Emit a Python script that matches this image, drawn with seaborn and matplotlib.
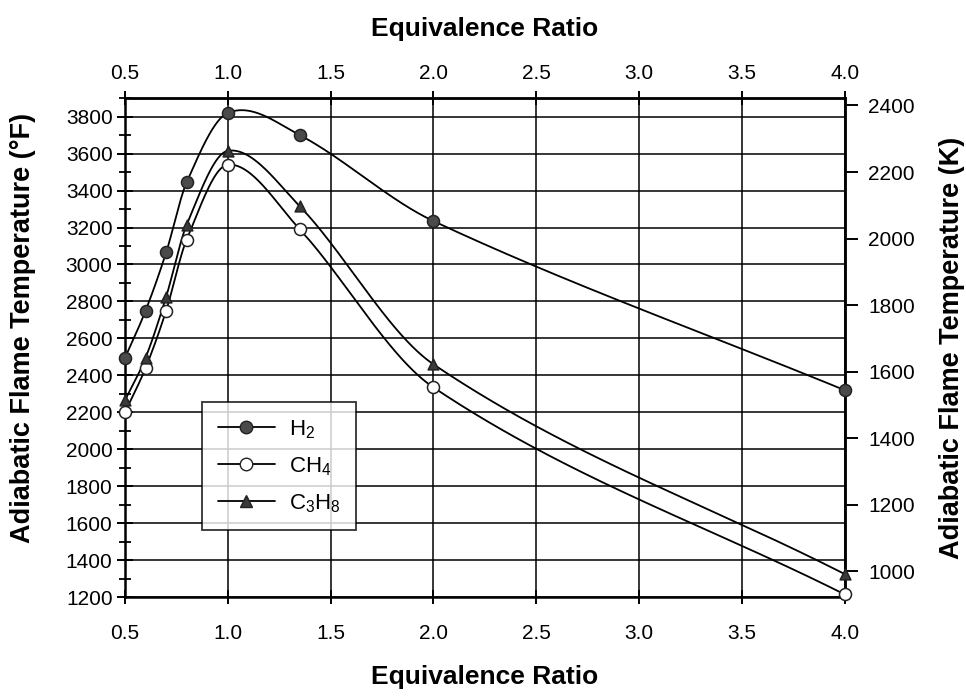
import numpy as np
import pandas as pd
import matplotlib
matplotlib.use("Agg")
import matplotlib.pyplot as plt
import seaborn as sns
from matplotlib.ticker import MultipleLocator
from matplotlib.lines import Line2D

# ---- data ----
phi = [0.5, 0.6, 0.7, 0.8, 1.0, 1.35, 2.0, 4.0]
h2 = [2495, 2750, 3065, 3445, 3820, 3700, 3235, 2320]
ch4 = [2200, 2440, 2750, 3135, 3540, 3190, 2335, 1215]
c3h8 = [2265, 2495, 2825, 3215, 3615, 3315, 2460, 1325]
fuels = ["H$_2$", "CH$_4$", "C$_3$H$_8$"]
x_ticks = [0.5, 1.0, 1.5, 2.0, 2.5, 3.0, 3.5, 4.0]
f_ticks = list(range(1200, 3801, 200))
k_ticks = list(range(1000, 2401, 200))


def smooth_curve(x, y, xs):
    """Cubic Hermite (Catmull-Rom style) curve through the data points."""
    x = np.asarray(x, float); y = np.asarray(y, float)
    n = len(x)
    m = np.zeros(n)
    m[0] = (y[1] - y[0]) / (x[1] - x[0])
    m[-1] = (y[-1] - y[-2]) / (x[-1] - x[-2])
    for i in range(1, n - 1):
        m[i] = (y[i + 1] - y[i - 1]) / (x[i + 1] - x[i - 1])
    idx = np.clip(np.searchsorted(x, xs) - 1, 0, n - 2)
    h = x[idx + 1] - x[idx]
    t = (xs - x[idx]) / h
    h00 = 2 * t**3 - 3 * t**2 + 1
    h10 = t**3 - 2 * t**2 + t
    h01 = -2 * t**3 + 3 * t**2
    h11 = t**3 - t**2
    return h00 * y[idx] + h10 * h * m[idx] + h01 * y[idx + 1] + h11 * h * m[idx + 1]


pts = pd.DataFrame({
    "phi": phi * 3,
    "T": h2 + ch4 + c3h8,
    "fuel": [fuels[0]] * 8 + [fuels[1]] * 8 + [fuels[2]] * 8,
})
xs = np.linspace(min(phi), max(phi), 800)
curves = pd.concat([
    pd.DataFrame({"phi": xs, "T": smooth_curve(phi, vals, xs), "fuel": f})
    for f, vals in zip(fuels, [h2, ch4, c3h8])
])

sns.set_theme(style="white")
plt.rcParams["font.family"] = ["Liberation Sans", "DejaVu Sans"]
plt.rcParams["mathtext.fontset"] = "custom"
plt.rcParams["mathtext.rm"] = "Liberation Sans"
plt.rcParams["mathtext.it"] = "Liberation Sans"
for k in ["text.color", "axes.labelcolor", "xtick.color", "ytick.color"]:
    plt.rcParams[k] = "black"

fig = plt.figure(figsize=(9.66, 6.96), dpi=100)
ax = fig.add_axes([0.1294, 0.142, 0.745, 0.717])

sns.lineplot(data=curves, x="phi", y="T", hue="fuel", palette=["black"] * 3,
             legend=False, linewidth=1.3, ax=ax, sort=False, estimator=None)

styles = {
    fuels[0]: dict(marker="o", s=75, facecolor="#4a4a4a", edgecolor="#222222"),
    fuels[1]: dict(marker="o", s=75, facecolor="white", edgecolor="#222222"),
    fuels[2]: dict(marker="^", s=60, facecolor="#3a3a3a", edgecolor="#222222"),
}
for f in fuels:
    d = pts[pts["fuel"] == f]
    sns.scatterplot(data=d, x="phi", y="T", ax=ax, linewidth=1.1, zorder=5,
                    clip_on=False, **styles[f])

ax.set_xlim(0.5, 4.0)
ax.set_ylim(1200, 3900)
ax.set_xticks(x_ticks)
ax.set_xticklabels([f"{v:.1f}" for v in x_ticks])
ax.set_yticks(f_ticks)
ax.yaxis.set_minor_locator(MultipleLocator(100))
ax.grid(True, which="major", color="black", linewidth=1.1)
ax.set_axisbelow(True)
for s in ax.spines.values():
    s.set_color("black"); s.set_linewidth(1.8)
ax.tick_params(axis="x", which="major", direction="inout", length=10, width=1.4,
               labelsize=15, pad=14, bottom=True)
ax.tick_params(axis="y", which="major", direction="inout", length=12, width=1.4,
               labelsize=15, pad=3, left=True)
ax.tick_params(axis="y", which="minor", direction="inout", length=9, width=1.3, left=True)
ax.set_xlabel("Equivalence Ratio", fontsize=19, fontweight="bold", labelpad=16)
ax.set_ylabel("Adiabatic Flame Temperature (\u00b0F)", fontsize=19.5,
              fontweight="bold", labelpad=21)
ax.yaxis.label.set_y(0.54)


def f2k(f):
    return (np.asarray(f) - 32) * 5 / 9 + 273.15


def k2f(k):
    return (np.asarray(k) - 273.15) * 9 / 5 + 32


ax_r = ax.secondary_yaxis("right", functions=(f2k, k2f))
ax_r.set_yticks(k_ticks)
ax_r.tick_params(direction="out", length=9, width=1.4, labelsize=15, pad=8, right=True)
ax_r.set_ylabel("Adiabatic Flame Temperature (K)", fontsize=19.5, fontweight="bold",
                labelpad=17)
ax_r.spines["right"].set_linewidth(1.8)

ax_t = ax.secondary_xaxis("top")
ax_t.set_xticks(x_ticks)
ax_t.set_xticklabels([f"{v:.1f}" for v in x_ticks])
ax_t.tick_params(direction="inout", length=10, width=1.4, labelsize=15, pad=6, top=True)
ax_t.set_xlabel("Equivalence Ratio", fontsize=19, fontweight="bold", labelpad=20)
ax_t.spines["top"].set_linewidth(1.8)

handles = [
    Line2D([], [], color="black", lw=1.3, marker="o", markersize=9,
           markerfacecolor="#4a4a4a", markeredgecolor="#222222"),
    Line2D([], [], color="black", lw=1.3, marker="o", markersize=9,
           markerfacecolor="white", markeredgecolor="#222222"),
    Line2D([], [], color="black", lw=1.3, marker="^", markersize=8,
           markerfacecolor="#3a3a3a", markeredgecolor="#222222"),
]
leg = ax.legend(handles, fuels, loc="lower left", bbox_to_anchor=(0.107, 0.134),
                fontsize=16, frameon=True, fancybox=False, edgecolor="black",
                handlelength=2.6, borderpad=0.7, labelspacing=0.65, handletextpad=0.6,
                borderaxespad=0)
leg.get_frame().set_linewidth(1.3)
leg.set_zorder(10)

fig.savefig("out.png", dpi=100, facecolor="white")
